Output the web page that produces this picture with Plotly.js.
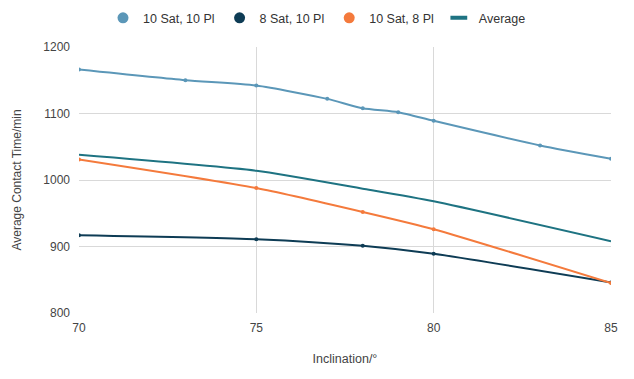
<!DOCTYPE html>
<html>
<head>
<meta charset="utf-8">
<script src="https://cdn.plot.ly/plotly-3.0.1.min.js"></script>
<style>html,body{margin:0;padding:0;background:#fff;}#chart{width:634px;height:379px;}</style>
</head>
<body>
<div id="chart"></div>
<script>
const names = ["10 Sat, 10 Pl", "8 Sat, 10 Pl", "10 Sat, 8 Pl", "Average"];
const colors = ["#5b97b8", "#0e3c55", "#f47a3c", "#1e7382"];

const x1 = [70, 73, 75, 77, 78, 79, 80, 83, 85];
const y1 = [1166, 1150, 1142, 1122, 1108, 1102, 1089, 1052, 1032];

const x2 = [70, 75, 78, 80, 85];
const y2 = [917, 911, 901, 889, 846];

const x3 = [70, 75, 78, 80, 85];
const y3 = [1031, 988, 952, 926, 845];

const xAvg = [70, 75, 78, 80, 85];
const yAvg = [1038, 1014, 987, 968, 908];

const xTicks = [70, 75, 80, 85];
const yTicks = [800, 900, 1000, 1100, 1200];

const font = "Liberation Sans, Arial, sans-serif";

const data = [
  {x: x1, y: y1, mode: "lines+markers", line: {color: colors[0], width: 2, shape: "spline", smoothing: 0.6}, marker: {size: 4, color: colors[0]}, showlegend: false, name: names[0]},
  {x: x2, y: y2, mode: "lines+markers", line: {color: colors[1], width: 2, shape: "spline", smoothing: 0.6}, marker: {size: 4, color: colors[1]}, showlegend: false, name: names[1]},
  {x: x3, y: y3, mode: "lines+markers", line: {color: colors[2], width: 2, shape: "spline", smoothing: 0.6}, marker: {size: 4, color: colors[2]}, showlegend: false, name: names[2]},
  {x: xAvg, y: yAvg, mode: "lines", line: {color: colors[3], width: 2, shape: "spline", smoothing: 0.6}, showlegend: false, name: names[3]},
  {x: [null], y: [null], mode: "markers", marker: {size: 11, color: colors[0]}, name: names[0]},
  {x: [null], y: [null], mode: "markers", marker: {size: 11, color: colors[1]}, name: names[1]},
  {x: [null], y: [null], mode: "markers", marker: {size: 11, color: colors[2]}, name: names[2]},
  {x: [null], y: [null], mode: "markers", marker: {symbol: "line-ew", size: 12, color: colors[3], line: {color: colors[3], width: 4}}, name: names[3]}
];

const layout = {
  width: 634, height: 379,
  margin: {l: 79, r: 23, t: 47, b: 66},
  paper_bgcolor: "#fff", plot_bgcolor: "#fff",
  font: {family: font, size: 12, color: "#444"},
  showlegend: true,
  legend: {orientation: "h", xref: "container", x: 0.5, xanchor: "center", yref: "container", y: 0.952, yanchor: "middle",
           font: {family: font, size: 12.5, color: "#333"}, itemwidth: 30, traceorder: "normal", tracegroupgap: 0},
  xaxis: {
    range: [70, 85], tickvals: xTicks, ticktext: xTicks.map(String),
    showgrid: true, gridcolor: "#d9d9d9", gridwidth: 1, zeroline: false, showline: false,
    ticks: "", ticklabelstandoff: 6, tickfont: {family: font, size: 12, color: "#444"},
    title: {text: "Inclination/°", font: {family: font, size: 12.5, color: "#444"}, standoff: 20}
  },
  yaxis: {
    range: [800, 1200], tickvals: yTicks, ticktext: yTicks.map(String),
    showgrid: true, gridcolor: "#d9d9d9", gridwidth: 1, zeroline: false, showline: false,
    ticks: "", ticklabelstandoff: 8, tickfont: {family: font, size: 12, color: "#444"},
    title: {text: "Average Contact Time/min", font: {family: font, size: 12, color: "#444"}, standoff: 19}
  }
};

Plotly.newPlot("chart", data, layout, {displayModeBar: false, staticPlot: true});
</script>
</body>
</html>
